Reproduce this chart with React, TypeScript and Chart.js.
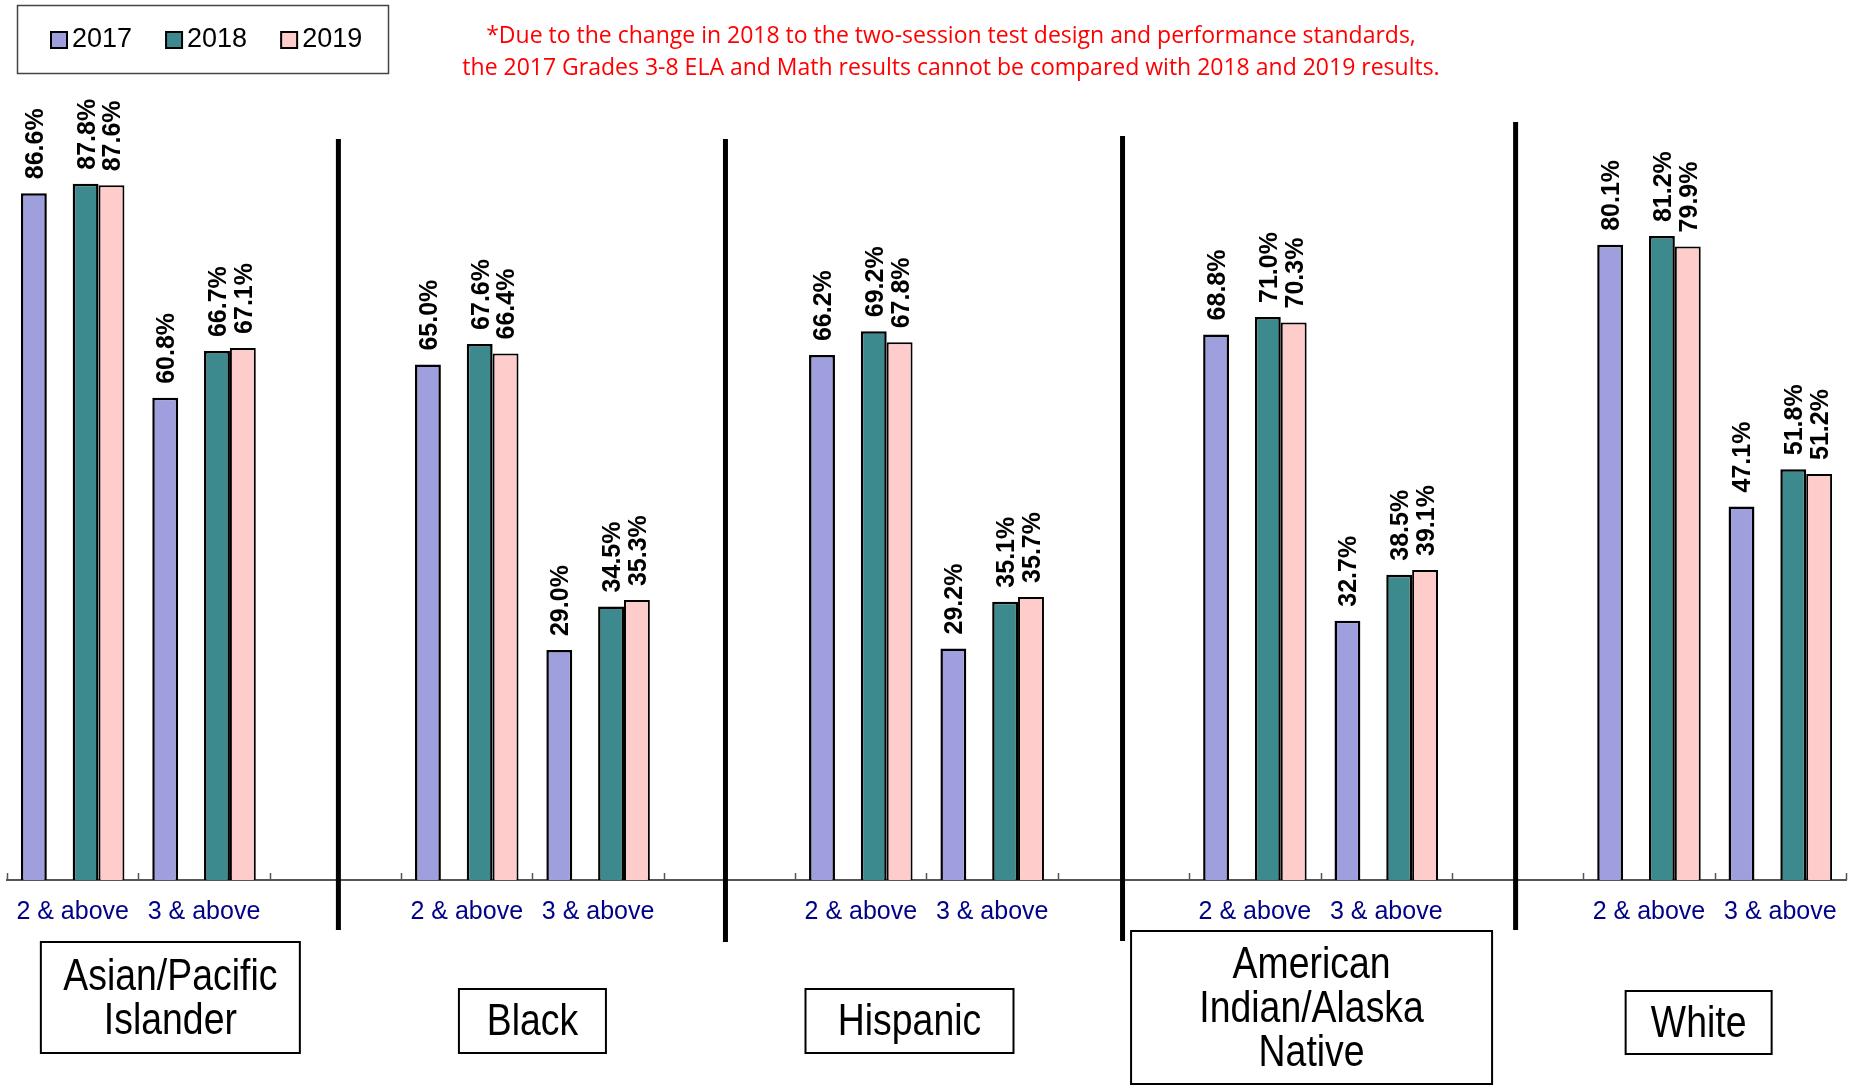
import React, { useEffect, useRef } from 'react';
import { Chart, registerables } from 'chart.js';

Chart.register(...registerables);

// ---------------- data ----------------
const YEARS = ['2017', '2018', '2019'];
const LEVELS = ['2 & above', '3 & above'];
const GROUP_LINES: string[][] = [
  ['Asian/Pacific', 'Islander'],
  ['Black'],
  ['Hispanic'],
  ['American', 'Indian/Alaska', 'Native'],
  ['White'],
];
// order: Asian 2+, Asian 3+, Black 2+, Black 3+, Hispanic 2+, Hispanic 3+, AI/AN 2+, AI/AN 3+, White 2+, White 3+
const Y2017 = [86.6, 60.8, 65.0, 29.0, 66.2, 29.2, 68.8, 32.7, 80.1, 47.1];
const Y2018 = [87.8, 66.7, 67.6, 34.5, 69.2, 35.1, 71.0, 38.5, 81.2, 51.8];
const Y2019 = [87.6, 67.1, 66.4, 35.3, 67.8, 35.7, 70.3, 39.1, 79.9, 51.2];
const NOTE_LINES = [
  '*Due to the change in 2018 to the two-session test design and performance standards,',
  'the 2017 Grades 3-8 ELA and Math results cannot be compared with 2018 and 2019 results.',
];

// ---------------- style ----------------
const COLORS = ['#A09FDE', '#3D8A8E', '#FFCCCC'];
const FONT = '"Liberation Sans", Arial, Helvetica, sans-serif';
const W = 1851;
const H = 1086;
// group label boxes: offset of box centre from group centre, width, top, height
const BOX_STYLE = [
  { dx: 32, w: 259, top: 942, h: 111 },
  { dx: 0, w: 147, top: 989, h: 64 },
  { dx: -17, w: 208, top: 989, h: 64 },
  { dx: -9, w: 361, top: 931, h: 153 },
  { dx: -16, w: 146, top: 991, h: 63 },
];
const SEPARATOR_STYLE = [
  { dx: 3, top: 139, bottom: 930 },
  { dx: -4, top: 139, bottom: 942 },
  { dx: -1, top: 136, bottom: 941 },
  { dx: -2, top: 122, bottom: 930 },
];

// ---------------- build category table ----------------
const labels: string[] = [];
GROUP_LINES.forEach((_, g) => {
  if (g > 0) labels.push('');
  labels.push(...LEVELS);
});
function pad(vals: number[]): (number | null)[] {
  const out: (number | null)[] = [];
  GROUP_LINES.forEach((_, g) => {
    if (g > 0) out.push(null);
    out.push(vals[2 * g], vals[2 * g + 1]);
  });
  return out;
}
const SERIES = [Y2017, Y2018, Y2019];

const decorPlugin = {
  id: 'decor',
  afterDatasetsDraw(chart: any) {
    const ctx: CanvasRenderingContext2D = chart.ctx;
    const xs = chart.scales.x;
    const area = chart.chartArea;
    const step = xs.getPixelForValue(1) - xs.getPixelForValue(0);

    // inner tick marks at category boundaries
    ctx.save();
    ctx.strokeStyle = '#555';
    ctx.lineWidth = 1.5;
    ctx.beginPath();
    for (let i = 0; i <= labels.length; i++) {
      const px = Math.round(xs.getPixelForValue(0) + (i - 0.5) * step) + 0.5;
      ctx.moveTo(px, area.bottom);
      ctx.lineTo(px, area.bottom - 7);
    }
    ctx.stroke();
    ctx.restore();

    // value labels
    ctx.save();
    ctx.font = `bold 25px ${FONT}`;
    ctx.fillStyle = '#000';
    ctx.textAlign = 'left';
    ctx.textBaseline = 'middle';
    chart.data.datasets.forEach((ds: any, di: number) => {
      if (!ds.label) return;
      const meta = chart.getDatasetMeta(di);
      meta.data.forEach((el: any, i: number) => {
        const v = ds.data[i];
        if (v == null) return;
        ctx.save();
        ctx.translate(el.x + 2, el.y - 14);
        ctx.rotate(-Math.PI / 2);
        ctx.fillText(v.toFixed(1) + '%', 0, 0);
        ctx.restore();
      });
    });
    ctx.restore();
  },
  afterDraw(chart: any) {
    const ctx: CanvasRenderingContext2D = chart.ctx;
    const xs = chart.scales.x;

    // thick separators in the empty categories
    ctx.save();
    ctx.strokeStyle = '#000';
    ctx.lineWidth = 5;
    SEPARATOR_STYLE.forEach((s, g) => {
      const px = xs.getPixelForValue(3 * g + 2) + s.dx;
      ctx.beginPath();
      ctx.moveTo(px, s.top);
      ctx.lineTo(px, s.bottom);
      ctx.stroke();
    });
    ctx.restore();

    // group label boxes
    ctx.save();
    ctx.font = `44px ${FONT}`;
    ctx.textAlign = 'center';
    ctx.textBaseline = 'middle';
    GROUP_LINES.forEach((lines, g) => {
      const b = BOX_STYLE[g];
      const gc = (xs.getPixelForValue(3 * g) + xs.getPixelForValue(3 * g + 1)) / 2;
      const cx = gc + b.dx;
      ctx.fillStyle = '#fff';
      ctx.fillRect(cx - b.w / 2, b.top, b.w, b.h);
      ctx.strokeStyle = '#000';
      ctx.lineWidth = 2;
      ctx.strokeRect(cx - b.w / 2, b.top, b.w, b.h);
      ctx.fillStyle = '#000';
      const lh = 44;
      const cy = b.top + b.h / 2 + 2;
      lines.forEach((ln, k) => {
        const y = cy + (k - (lines.length - 1) / 2) * lh;
        const wNat = ctx.measureText(ln).width;
        ctx.fillText(ln, cx, y, wNat * 0.85);
      });
    });
    ctx.restore();

    // legend box
    ctx.save();
    ctx.strokeStyle = '#444';
    ctx.lineWidth = 1.5;
    ctx.strokeRect(17.5, 5.5, 371, 68);
    ctx.font = `27px ${FONT}`;
    ctx.textAlign = 'left';
    ctx.textBaseline = 'middle';
    let lx = 51;
    chart.data.datasets.forEach((ds: any) => {
      if (!ds.label) return;
      ctx.fillStyle = ds.backgroundColor;
      ctx.fillRect(lx, 32, 16, 16);
      ctx.strokeStyle = '#000';
      ctx.lineWidth = 2;
      ctx.strokeRect(lx, 32, 16, 16);
      ctx.fillStyle = '#000';
      ctx.fillText(ds.label, lx + 21, 40);
      lx += 21 + ctx.measureText(ds.label).width + 34;
    });
    ctx.restore();

    // red note
    ctx.save();
    ctx.fillStyle = '#FF0000';
    ctx.font = `23px "Open Sans", ${FONT}`;
    ctx.textAlign = 'center';
    ctx.textBaseline = 'middle';
    const widths = [940, 990];
    NOTE_LINES.forEach((ln, k) => {
      ctx.fillText(ln, 951, 36 + k * 32, widths[k]);
    });
    ctx.restore();
  },
};

export default function App() {
  const ref = useRef<HTMLCanvasElement | null>(null);

  useEffect(() => {
    document.body.style.margin = '0';
    document.body.style.overflow = 'hidden';
    const canvas = ref.current;
    if (!canvas) return;

    const datasets: any[] = [
      {
        label: YEARS[0],
        data: pad(SERIES[0]),
        backgroundColor: COLORS[0],
        borderColor: '#000',
        borderWidth: 2.5,
      },
      {
        label: '',
        data: labels.map(() => null),
        backgroundColor: 'rgba(0,0,0,0)',
        borderWidth: 0,
      },
      {
        label: YEARS[1],
        data: pad(SERIES[1]),
        backgroundColor: COLORS[1],
        borderColor: '#000',
        borderWidth: 2.5,
      },
      {
        label: YEARS[2],
        data: pad(SERIES[2]),
        backgroundColor: COLORS[2],
        borderColor: '#000',
        borderWidth: 2,
      },
    ];

    const chart = new Chart(canvas, {
      type: 'bar',
      data: { labels, datasets },
      options: {
        responsive: false,
        animation: false,
        devicePixelRatio: 1,
        layout: { padding: { left: 7, right: 5, top: 87, bottom: 146 } },
        datasets: {
          bar: { categoryPercentage: 0.788, barPercentage: 1 },
        },
        plugins: {
          legend: { display: false },
          title: { display: false },
          tooltip: { enabled: false },
        },
        scales: {
          x: {
            grid: { display: false, drawTicks: false },
            border: { display: true, color: '#555', width: 2 },
            ticks: {
              autoSkip: false,
              maxRotation: 0,
              minRotation: 0,
              padding: 17,
              color: '#000088',
              font: { family: FONT, size: 25 },
            },
            afterFit: (s: any) => {
              s.height = 60;
              s.paddingLeft = 0;
              s.paddingRight = 0;
            },
          },
          y: {
            display: false,
            min: 0,
            max: 100,
          },
        },
      } as any,
      plugins: [decorPlugin],
    });

    return () => chart.destroy();
  }, []);

  return (
    <div style={{ width: W, height: H, position: 'relative', background: '#fff' }}>
      <canvas ref={ref} width={W} height={H} style={{ display: 'block' }} />
    </div>
  );
}
